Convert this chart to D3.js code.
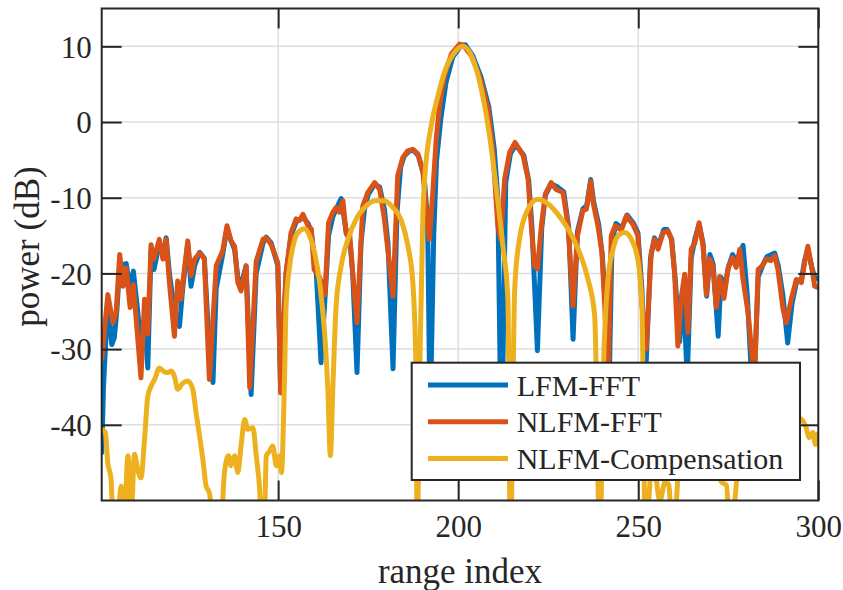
<!DOCTYPE html>
<html>
<head>
<meta charset="utf-8">
<script src="https://cdn.jsdelivr.net/npm/d3@7"></script>
<style>
html,body{margin:0;padding:0;background:#fff;}
svg{display:block;}
</style>
</head>
<body>
<svg id="chart" width="843" height="590"></svg>
<script>
// ---------- data ----------
const seriesNames = ["LFM-FFT", "NLFM-FFT", "NLFM-Compensation"];
const seriesColors = ["#0072BD", "#D95319", "#EDB120"];
const xTicks = [150, 200, 250, 300];
const yTicks = [-40, -30, -20, -10, 0, 10];

const lfmX = [101,101.5,102.7,103.8,104.5,105.2,106,107.8,108.9,109.8,111,111.9,112.9,113.8,114.7,115.5,117,118,118.9,119.8,121.2,122.6,123.5,124.9,125.8,126.8,128.2,129.5,130.9,131.9,132.8,134.6,135.8,136.9,137.9,138.8,139.7,141.1,142.5,143.9,145.8,146.7,148.1,149.9,150.7,152.2,153.6,155,156.9,158.3,159.2,160.6,161.9,163.3,164,165.2,166.1,167.5,168.9,170,170.7,171.9,173,174,175,176.8,178.2,179.5,180.5,181.9,183,184,185,186.5,187.8,189,190.5,191.5,192.2,193.2,194,195.2,196.6,198.5,200.8,202,204,206.3,208.5,210,211,212,213.2,214.5,216,218.2,219.6,220.5,222,223.2,224.2,225.8,227.3,229.3,230.7,231.9,233.1,234.6,235.7,236.8,237.6,239,240,241,241.8,242.7,243.8,245.4,246.9,248.6,249.9,251,252,253.4,254.5,255.6,257.1,258,259.3,260.3,261.5,262.5,263.6,264.7,265.8,266.9,268,269,269.9,270.8,272.2,273,274,275,276.2,277.3,279.1,280.3,281.9,283.3,284.5,285.7,287.9,288.9,290.2,291.5,292.7,294,295.3,296.2,297.1,298.1,299,300];
const lfmY = [-43.9,-35,-23.5,-29.4,-28.5,-25,-19,-18.7,-22,-19.7,-25,-30,-26,-32.5,-17,-19.5,-16,-17.5,-15.3,-20,-25,-27,-22,-16,-21.7,-19,-17.2,-18,-30,-34.4,-22,-17.5,-14,-15.7,-16.8,-20.5,-21.5,-19,-36,-20,-16,-15.2,-16,-19,-35.5,-20,-15,-13.2,-12.6,-13.4,-14.5,-20,-31.8,-21,-15,-12.5,-11.5,-10.1,-14.5,-16,-20,-33.1,-16,-11.5,-9.6,-8.2,-8.6,-11.5,-16,-32.6,-12,-6,-4.5,-3.8,-3.8,-4.5,-7,-13,-40,-15,-5,0.5,5.2,8.6,10.1,10.2,8.8,6,2,-3.5,-10,-45,-8,-4.2,-3,-4.4,-7.8,-14,-30.2,-14,-9.7,-8.2,-8.5,-9.2,-14,-28.7,-14.5,-11.5,-11,-7.6,-10.5,-13.5,-17.5,-25,-38,-16,-13.4,-14,-12.3,-13.3,-14.6,-22,-34,-18,-15.3,-16.3,-14.2,-14.2,-15.5,-21,-29,-22,-34,-18,-15.3,-13.5,-16,-23,-17.5,-18.8,-28.3,-20.5,-22,-19.2,-17.5,-18.5,-16.3,-23,-38,-20.5,-19,-17.8,-17.3,-19,-23,-29.2,-24,-21,-20.8,-18.3,-16.8,-19,-20.5,-20.8];

const nlfmX = [101,102.7,104.1,105,106,106.9,107.8,108.9,109.8,111.9,112.9,113.8,114.7,115.5,117,118,118.9,119.8,121.2,122.1,123,124.9,125.8,126.8,128.2,129.5,130.9,132.8,134.6,135.8,136.9,137.9,138.8,139.7,141.1,142.1,143.9,145.8,146.7,148.1,149.9,150.7,152.2,153.6,155,155.9,156.9,158.3,159.2,160,161.5,163,164,165.2,166.1,167,168,168.9,169.8,170.7,171.9,173.5,174.9,176.8,178.2,179.5,181.9,183.2,184.6,186,187.4,188.8,190.2,191.1,192,193,193.9,194.8,196.2,198.1,200.4,201.3,203.6,205.9,208.3,209.6,211,211.8,212.9,214.3,215.8,218,219.4,220.3,221.2,222,223.1,224.2,225.8,227.2,229.1,230.5,231.9,233.1,234.6,235.6,236.8,237.4,238.8,239.9,240.7,241.6,242.5,243.6,245.3,246.7,248.5,249.9,251,252.2,253.6,254.5,255.5,256.9,258.3,259.2,260.1,261,262,262.9,263.8,264.7,265.7,266.9,268,268.9,269.8,270.7,271.7,272.6,273.8,274.9,276.1,277.2,278.2,279.1,280.5,281.6,282.3,283.3,284.4,285.6,286.8,287.9,288.8,290.2,291.1,292.5,293.9,295.3,296.2,297.1,298.1,299,300];
const nlfmY = [-31.4,-22.8,-26.5,-25.2,-17.5,-21.7,-19.3,-24.5,-21.5,-33.8,-23.4,-28,-16.2,-18.1,-15.5,-18.1,-15.5,-21.2,-28.3,-21,-23.4,-15.7,-20.3,-18.1,-17.3,-18.1,-34,-19,-17,-13.7,-15.7,-16.4,-21.2,-22.3,-19,-35.1,-18.4,-15.5,-15.3,-16.2,-18.6,-35.8,-19.9,-14.6,-12.8,-13,-12.2,-13.7,-14.1,-19.5,-20.5,-22.8,-13.3,-11.9,-11.3,-11.9,-10.4,-14.8,-14.4,-19.9,-26.5,-11.1,-9.3,-8,-8.9,-12.8,-23,-7.1,-4.7,-3.8,-3.6,-4.2,-6.7,-11.5,-15.5,-8.9,-2.2,2.2,6.1,9,10.3,10.2,8.8,6.1,1.7,-3.6,-13.7,-15.5,-7.5,-4,-2.7,-4.4,-7.5,-13.7,-19,-19.4,-13.7,-9.5,-8,-8.9,-9.3,-13.7,-24.3,-15.1,-11.7,-11.5,-7.8,-10.5,-13.7,-17.2,-24.3,-35,-15,-13.7,-14.3,-12.4,-13.5,-15,-24,-30,-17.3,-15.5,-16.8,-14.6,-14.4,-15.5,-19.9,-29.6,-23,-20.1,-27.8,-16.8,-16,-13.3,-16.4,-22.8,-18.1,-19,-24.5,-20.4,-23.3,-19.5,-17.9,-19.2,-16.8,-20.8,-25.2,-30.9,-34,-19.5,-19,-18.1,-18.3,-17.7,-19.5,-24.7,-26.5,-23.4,-20.8,-21.2,-18.6,-16.4,-19,-21.7,-21.9];

const compX = [101,102,102.7,103.6,104.1,105.5,106.4,107.3,108.3,109.2,110.1,111,111.9,112.9,113.8,114.7,115.7,117,118.4,119.4,120.3,121.2,122.1,123.5,124.9,126.3,127.2,128.2,129.1,130,130.9,131.9,134.2,135.1,136.2,136.9,137.9,138.8,139.7,140.7,141.6,143,143.9,144.8,145.3,146.2,146.7,147.6,148.5,149.5,150.4,150.9,151.8,152.2,153.2,154.6,155.9,157.3,158.7,160.1,161.5,162.9,163.8,164.5,165.2,166.1,167.5,169.4,171.7,174,176.8,179.5,181.9,184.2,186,187.4,188.3,188.6,189.3,190.2,190.7,192.5,194.4,196.2,199,201.3,204.1,206.4,208.7,210.6,212.4,213.8,214.5,215.7,217,219.4,222.1,224.9,227.7,230.5,233.3,236,237.9,239.3,240.5,241.6,243,244.4,246.2,248.1,249.9,251,252,254,256,257.5,258.5,259.5,262,265,268,271,273,274.5,275.5,278,282,286,290,293,295,296.5,297.5,298.5,299.2,300];
const compY = [-40.6,-41,-45,-47.2,-52,-52,-48.1,-52,-44.1,-52,-43.9,-45.9,-47,-41.9,-36.2,-34.9,-34,-32.5,-33,-33.1,-32.9,-33.6,-35.3,-34.5,-34.2,-35.3,-38.4,-41.5,-44.6,-48.1,-49,-52,-52,-46.3,-44.1,-45.4,-44.1,-46.3,-42.8,-39.3,-40.6,-40.4,-44,-48.1,-52,-52,-44.1,-43.5,-42.8,-45.4,-44.1,-46.3,-33.1,-24.3,-19,-15.5,-14.4,-14.1,-15,-17.2,-21.2,-27.8,-35.3,-44.1,-35,-24.3,-19,-15.5,-12.8,-11.3,-10.4,-10.4,-11.3,-13,-16.3,-21.2,-33,-55,-33,-12,-7.5,-0.5,3.5,6.6,9.2,10,8.3,4.4,-1.8,-8.9,-16.3,-23.4,-55,-22,-15.5,-11.5,-10.2,-10.8,-12.2,-14.1,-16.8,-20.7,-25.6,-55,-30,-20.7,-16.8,-15,-14.6,-15.5,-18.2,-24,-55,-44,-50,-47.5,-48,-55,-42,-40,-44,-42,-47.5,-48,-55,-45,-42,-40,-44,-42,-39.2,-40.2,-41.7,-41,-42.6,-41];

// ---------- layout ----------
const L = 101.7, R = 818.3, T = 8.5, B = 500.5;
const svg = d3.select("#chart");
const fontFam = "'Liberation Serif', 'DejaVu Serif', serif";
const ink = "#262626";

const x = d3.scaleLinear().domain([101, 300]).range([L, R]);
const y = d3.scaleLinear().domain([-50, 15]).range([B, T]);

svg.append("defs").append("clipPath").attr("id", "clip")
  .append("rect").attr("x", L).attr("y", T).attr("width", R - L).attr("height", B - T);

// grid
const grid = svg.append("g");
grid.selectAll(".gx").data(xTicks.filter(d => d < 300)).enter().append("line")
  .attr("x1", d => x(d)).attr("x2", d => x(d)).attr("y1", T).attr("y2", B)
  .attr("stroke", "#dedede").attr("stroke-width", 1.5);
grid.selectAll(".gy").data(yTicks).enter().append("line")
  .attr("x1", L).attr("x2", R).attr("y1", d => y(d)).attr("y2", d => y(d))
  .attr("stroke", "#dedede").attr("stroke-width", 1.5);

// series
const series = [
  {xs: lfmX, ys: lfmY, curve: d3.curveLinear},
  {xs: nlfmX, ys: nlfmY, curve: d3.curveLinear},
  {xs: compX, ys: compY, curve: d3.curveMonotoneX}
];
const plot = svg.append("g").attr("clip-path", "url(#clip)");
series.forEach((s, i) => {
  const pts = s.xs.map((v, k) => [v, s.ys[k]]);
  const line = d3.line().x(d => x(d[0])).y(d => y(d[1])).curve(s.curve);
  plot.append("path").datum(pts).attr("d", line)
    .attr("fill", "none").attr("stroke", seriesColors[i])
    .attr("stroke-width", 5).attr("stroke-linejoin", "round").attr("stroke-linecap", "butt");
});

// axes (ticks inside)
const tickLen = 20;
const fmt = d => String(d);
const axB = svg.append("g").attr("transform", `translate(0,${B})`)
  .call(d3.axisBottom(x).tickValues(xTicks).tickSize(-tickLen).tickPadding(14).tickFormat(fmt));
const axT = svg.append("g").attr("transform", `translate(0,${T})`)
  .call(d3.axisTop(x).tickValues(xTicks).tickSize(-tickLen).tickFormat(""));
const axL = svg.append("g").attr("transform", `translate(${L},0)`)
  .call(d3.axisLeft(y).tickValues(yTicks).tickSize(-tickLen).tickPadding(10).tickFormat(fmt));
const axR = svg.append("g").attr("transform", `translate(${R},0)`)
  .call(d3.axisRight(y).tickValues(yTicks).tickSize(-tickLen).tickFormat(""));
[axB, axT, axL, axR].forEach(a => {
  a.select(".domain").remove();
  a.selectAll(".tick line").attr("stroke", ink).attr("stroke-width", 2);
  a.selectAll("text").attr("fill", ink).style("font-family", fontFam).style("font-size", "31px");
});
axL.selectAll("text").attr("dy", "0.35em");

// frame
svg.append("rect").attr("x", L).attr("y", T).attr("width", R - L).attr("height", B - T)
  .attr("fill", "none").attr("stroke", ink).attr("stroke-width", 2);

// axis labels
svg.append("text").attr("x", (L + R) / 2).attr("y", 583).attr("text-anchor", "middle")
  .attr("fill", ink).style("font-family", fontFam).style("font-size", "35px").text("range index");
svg.append("text").attr("transform", `translate(39,${(T + B) / 2 - 8}) rotate(-90)`)
  .attr("text-anchor", "middle").attr("fill", ink)
  .style("font-family", fontFam).style("font-size", "35px").text("power (dB)");

// legend
const lg = svg.append("g");
lg.append("rect").attr("x", 411.7).attr("y", 362.7).attr("width", 388.3).attr("height", 117.3)
  .attr("fill", "#fff").attr("stroke", ink).attr("stroke-width", 2);
seriesNames.forEach((name, i) => {
  const yy = 385 + i * 36.7;
  lg.append("line").attr("x1", 428).attr("x2", 508).attr("y1", yy).attr("y2", yy)
    .attr("stroke", seriesColors[i]).attr("stroke-width", 5);
  lg.append("text").attr("x", 516.7).attr("y", yy).attr("dy", "0.35em")
    .attr("fill", ink).style("font-family", fontFam).style("font-size", "30px").text(name);
});
</script>
</body>
</html>
